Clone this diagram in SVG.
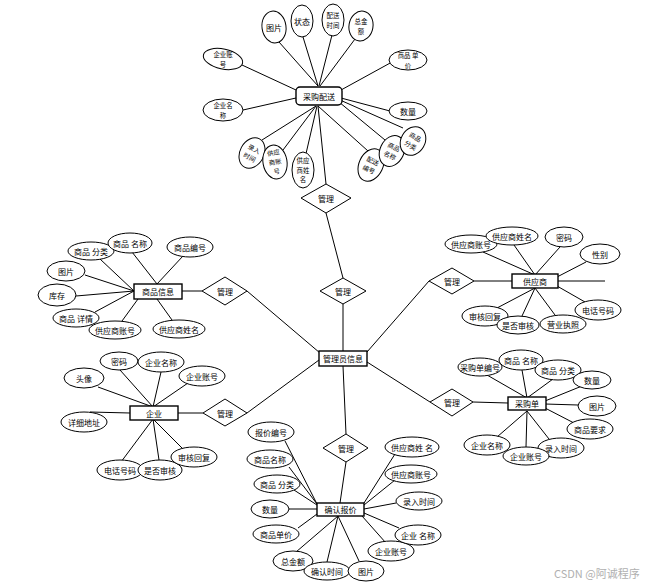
<svg xmlns="http://www.w3.org/2000/svg" width="648" height="585" viewBox="0 0 648 585">
<style>
.l{stroke:#000;stroke-width:1;fill:none}
.e{fill:#fff;stroke:#000;stroke-width:1}
.b{fill:#fff;stroke:#000;stroke-width:1.4}
.d{fill:#fff;stroke:#000;stroke-width:1}
text{font-family:"Noto Sans CJK SC","Noto Sans",sans-serif;font-size:8px;fill:#000;text-anchor:middle;dominant-baseline:central}
text.s{font-size:6.4px}
.wm{font-size:11px;fill:#b0b0b0;text-anchor:start}
</style>
<rect width="648" height="585" fill="#fff"/>
<g id="connectors">
<path class="l" d="M318,86L279,42M318,86L303,37M319,86L332,35M320,86L355,39M296,90L242,65M341,90L392,62M296,98L243,110M341,98L390,111M316,106L262,140M316,106L283,150M317,106L305,158M318,106L368,151M339,102L385,140M340,100L403,128M318,106L326,184"/>
<path class="l" d="M326,213L343,278M343,304L343,351"/>
<path class="l" d="M134,291L100,259M134,291L85,275M134,291L76,296M134,291L95,312M138,299L122,321M157,284L132,252M157,284L183,256M157,299L172,320M182,291L202,291M247,291L320,353"/>
<path class="l" d="M535,275L483,252M535,275L514,245M535,275L560,247M557,277L586,262M557,286L585,302M535,288L497,308M535,288L522,316M535,288L555,315M558,281L605,281M512,281L474,281M429,281L367,352"/>
<path class="l" d="M153,407L98,387M153,407L120,370M153,407L161,372M153,407L188,383M130,413L90,412M153,419L121,462M153,419L159,460M153,419L183,449M178,413L203,413M247,413L319,360"/>
<path class="l" d="M527,398L487,375M527,398L522,370M527,398L553,379M545,401L582,386M545,404L578,405M545,408L574,423M527,411L497,437M527,411L526,447M527,411L549,439M508,403L473,402M430,402L367,362"/>
<path class="l" d="M343,366L346,434M346,462L340,503M317,504L285,441M317,504L289,467M317,505L294,490M317,509L289,509M317,514L298,528M338,516L296,552M338,516L327,562M338,516L359,561M362,516L386,543M364,513L399,528M364,509L396,503M364,505L395,480M364,503L395,454"/>
</g>
<g id="n_caigoupeisong"><rect class="b" x="296" y="87" width="46" height="18" rx="4"/><text x="319" y="96">采购配送</text></g>
<g id="a_tupian1"><ellipse class="e" cx="274" cy="27" rx="12" ry="16" transform="rotate(-8 274 27)"/><text x="274" y="27">图片</text></g>
<g id="a_zhuangtai"><ellipse class="e" cx="302" cy="21" rx="11" ry="16"/><text x="302" y="21">状态</text></g>
<g id="a_peisongshijian"><ellipse class="e" cx="333" cy="20" rx="11" ry="16"/><text class="s" x="333" y="15.5">配送</text><text class="s" x="333" y="25">时间</text></g>
<g id="a_zongjine1"><ellipse class="e" cx="361" cy="26" rx="12" ry="15" transform="rotate(10 361 26)"/><text class="s" x="361" y="21.5">总金</text><text class="s" x="361" y="31">额</text></g>
<g id="a_qiyezhanghao1"><ellipse class="e" cx="223" cy="59" rx="20" ry="10" transform="rotate(12 223 59)"/><text class="s" x="223" y="54.5">企业账</text><text class="s" x="223" y="64">号</text></g>
<g id="a_shangpindanjia1"><ellipse class="e" cx="408" cy="60" rx="19" ry="10"/><text class="s" x="408" y="55.5">商品 单</text><text class="s" x="408" y="65">价</text></g>
<g id="a_qiyemingcheng1"><ellipse class="e" cx="223" cy="110" rx="20" ry="11"/><text class="s" x="223" y="105.5">企业名</text><text class="s" x="223" y="115">称</text></g>
<g id="a_shuliang1"><ellipse class="e" cx="408" cy="111" rx="19" ry="9"/><text x="408" y="111">数量</text></g>
<g id="a_lurushijian1" transform="rotate(28 252 153)"><ellipse class="e" cx="252" cy="153" rx="12" ry="16"/><text class="s" x="252" y="148.5">录入</text><text class="s" x="252" y="158">时间</text></g>
<g id="a_gysZhanghao1" transform="rotate(-10 275 162)"><ellipse class="e" cx="275" cy="162" rx="12" ry="17"/><text class="s" x="275" y="152.5">供应</text><text class="s" x="275" y="162">商账</text><text class="s" x="275" y="171.5">号</text></g>
<g id="a_gysXingming1"><ellipse class="e" cx="303" cy="170" rx="11" ry="18"/><text class="s" x="303" y="160.5">供应</text><text class="s" x="303" y="170">商姓</text><text class="s" x="303" y="179.5">名</text></g>
<g id="a_peisongbianhao" transform="rotate(25 371 165)"><ellipse class="e" cx="371" cy="165" rx="12" ry="17"/><text class="s" x="371" y="160.5">配送</text><text class="s" x="371" y="170">编号</text></g>
<g id="a_spmingcheng1" transform="rotate(25 392 151)"><ellipse class="e" cx="392" cy="151" rx="12" ry="16"/><text class="s" x="392" y="146.5">商品</text><text class="s" x="392" y="156">名称</text></g>
<g id="a_spfenlei1" transform="rotate(30 413 141)"><ellipse class="e" cx="413" cy="141" rx="12" ry="15"/><text class="s" x="413" y="136.5">商品</text><text class="s" x="413" y="146">分类</text></g>
<g id="r_guanli1"><polygon class="d" points="326,184 351,198 326,213 301,198"/><text x="326" y="198">管理</text></g>
<g id="r_guanli2"><polygon class="d" points="343,278 366,291 343,304 320,291"/><text x="343" y="291">管理</text></g>
<g id="n_guanliyuan"><rect class="b" x="319" y="351" width="48" height="15"/><text x="343" y="358.5">管理员信息</text></g>
<g id="n_shangpinxinxi"><rect class="b" x="134" y="284" width="48" height="15"/><text x="158" y="291.5">商品信息</text></g>
<g id="a_sp_fenlei"><ellipse class="e" cx="91" cy="251" rx="23" ry="9"/><text x="91" y="251">商品 分类</text></g>
<g id="a_sp_mingcheng"><ellipse class="e" cx="130" cy="243" rx="22" ry="10"/><text x="130" y="243">商品 名称</text></g>
<g id="a_sp_bianhao"><ellipse class="e" cx="190" cy="247" rx="23" ry="10"/><text x="190" y="247">商品编号</text></g>
<g id="a_sp_tupian"><ellipse class="e" cx="66" cy="271" rx="19" ry="10"/><text x="66" y="271">图片</text></g>
<g id="a_sp_kucun"><ellipse class="e" cx="57" cy="295" rx="19" ry="11"/><text x="57" y="295">库存</text></g>
<g id="a_sp_xiangqing"><ellipse class="e" cx="76" cy="318" rx="23" ry="9"/><text x="76" y="318">商品 详情</text></g>
<g id="a_sp_gyszh"><ellipse class="e" cx="115" cy="330" rx="26" ry="9"/><text x="115" y="330">供应商账号</text></g>
<g id="a_sp_gysxm"><ellipse class="e" cx="179" cy="329" rx="26" ry="9"/><text x="179" y="329">供应商姓名</text></g>
<g id="r_guanli_sp"><polygon class="d" points="225,277 247,291 225,305 202,291"/><text x="225" y="291">管理</text></g>
<g id="n_gongyingshang"><rect class="b" x="512" y="274" width="46" height="14"/><text x="535" y="281">供应商</text></g>
<g id="a_gys_zh"><ellipse class="e" cx="471" cy="244" rx="26" ry="9"/><text x="471" y="244">供应商账号</text></g>
<g id="a_gys_xm"><ellipse class="e" cx="512" cy="236" rx="26" ry="9"/><text x="512" y="236">供应商姓名</text></g>
<g id="a_gys_mima"><ellipse class="e" cx="564" cy="237" rx="19" ry="10"/><text x="564" y="237">密码</text></g>
<g id="a_gys_xingbie"><ellipse class="e" cx="600" cy="254" rx="20" ry="10"/><text x="600" y="254">性别</text></g>
<g id="a_gys_dianhua"><ellipse class="e" cx="598" cy="310" rx="23" ry="10"/><text x="598" y="310">电话号码</text></g>
<g id="a_gys_shhf"><ellipse class="e" cx="485" cy="316" rx="23" ry="10"/><text x="485" y="316">审核回复</text></g>
<g id="a_gys_sfsh"><ellipse class="e" cx="518" cy="325" rx="21" ry="9"/><text x="518" y="325">是否审核</text></g>
<g id="a_gys_yyzz"><ellipse class="e" cx="563" cy="324" rx="23" ry="9"/><text x="563" y="324">营业执照</text></g>
<g id="r_guanli_gys"><polygon class="d" points="452,268 474,281 452,294 429,281"/><text x="452" y="281">管理</text></g>
<g id="n_qiye"><rect class="b" x="130" y="406" width="48" height="14"/><text x="154" y="413">企业</text></g>
<g id="a_qy_touxiang"><ellipse class="e" cx="84" cy="378" rx="20" ry="10"/><text x="84" y="378">头像</text></g>
<g id="a_qy_mima"><ellipse class="e" cx="119" cy="361" rx="19" ry="9"/><text x="119" y="361">密码</text></g>
<g id="a_qy_mc"><ellipse class="e" cx="161" cy="362" rx="23" ry="10"/><text x="161" y="362">企业名称</text></g>
<g id="a_qy_zh"><ellipse class="e" cx="202" cy="376" rx="23" ry="10"/><text x="202" y="376">企业账号</text></g>
<g id="a_qy_dizhi"><ellipse class="e" cx="84" cy="422" rx="23" ry="10"/><text x="84" y="422">详细地址</text></g>
<g id="a_qy_dianhua"><ellipse class="e" cx="120" cy="470" rx="23" ry="10"/><text x="120" y="470">电话号码</text></g>
<g id="a_qy_sfsh"><ellipse class="e" cx="160" cy="470" rx="22" ry="10"/><text x="160" y="470">是否审核</text></g>
<g id="a_qy_shhf"><ellipse class="e" cx="194" cy="457" rx="23" ry="10"/><text x="194" y="457">审核回复</text></g>
<g id="r_guanli_qy"><polygon class="d" points="225,399 247,413 225,426 203,413"/><text x="225" y="413">管理</text></g>
<g id="n_caigoudan"><rect class="b" x="508" y="397" width="38" height="13"/><text x="527" y="403.5">采购单</text></g>
<g id="a_cgd_bh"><ellipse class="e" cx="480" cy="367" rx="22" ry="9"/><text x="480" y="367">采购单编号</text></g>
<g id="a_cgd_mc"><ellipse class="e" cx="521" cy="360" rx="22" ry="10"/><text x="521" y="360">商品 名称</text></g>
<g id="a_cgd_fl"><ellipse class="e" cx="558" cy="370" rx="23" ry="10"/><text x="558" y="370">商品 分类</text></g>
<g id="a_cgd_sl"><ellipse class="e" cx="592" cy="380" rx="19" ry="9"/><text x="592" y="380">数量</text></g>
<g id="a_cgd_tp"><ellipse class="e" cx="597" cy="406" rx="19" ry="10"/><text x="597" y="406">图片</text></g>
<g id="a_cgd_yq"><ellipse class="e" cx="590" cy="429" rx="23" ry="10"/><text x="590" y="429">商品要求</text></g>
<g id="a_cgd_lr"><ellipse class="e" cx="561" cy="448" rx="23" ry="10"/><text x="561" y="448">录入时间</text></g>
<g id="a_cgd_qymc"><ellipse class="e" cx="487" cy="445" rx="23" ry="10"/><text x="487" y="445">企业名称</text></g>
<g id="a_cgd_qyzh"><ellipse class="e" cx="526" cy="456" rx="23" ry="9"/><text x="526" y="456">企业账号</text></g>
<g id="r_guanli_cgd"><polygon class="d" points="452,389 473,402 452,416 430,402"/><text x="452" y="402">管理</text></g>
<g id="n_querenbaojia"><rect class="b" x="317" y="503" width="47" height="13"/><text x="340.5" y="509.5">确认报价</text></g>
<g id="a_qr_bjbh"><ellipse class="e" cx="271" cy="432" rx="23" ry="10"/><text x="271" y="432">报价编号</text></g>
<g id="a_qr_spmc"><ellipse class="e" cx="270" cy="459" rx="23" ry="9"/><text x="270" y="459">商品名称</text></g>
<g id="a_qr_spfl"><ellipse class="e" cx="277" cy="484" rx="23" ry="9"/><text x="277" y="484">商品 分类</text></g>
<g id="a_qr_sl"><ellipse class="e" cx="270" cy="509" rx="19" ry="9"/><text x="270" y="509">数量</text></g>
<g id="a_qr_spdj"><ellipse class="e" cx="276" cy="534" rx="23" ry="9"/><text x="276" y="534">商品单价</text></g>
<g id="a_qr_zje"><ellipse class="e" cx="293" cy="561" rx="20" ry="10"/><text x="293" y="561">总金额</text></g>
<g id="a_qr_qrsj"><ellipse class="e" cx="327" cy="571" rx="23" ry="9"/><text x="327" y="571">确认时间</text></g>
<g id="a_qr_tp"><ellipse class="e" cx="366" cy="571" rx="18" ry="10"/><text x="366" y="571">图片</text></g>
<g id="a_qr_qyzh"><ellipse class="e" cx="391" cy="551" rx="23" ry="10"/><text x="391" y="551">企业账号</text></g>
<g id="a_qr_qymc"><ellipse class="e" cx="418" cy="535" rx="23" ry="10"/><text x="418" y="535">企业 名称</text></g>
<g id="a_qr_lrsj"><ellipse class="e" cx="419" cy="501" rx="23" ry="9"/><text x="419" y="501">录入时间</text></g>
<g id="a_qr_gyszh"><ellipse class="e" cx="411" cy="474" rx="26" ry="9"/><text x="411" y="474">供应商账号</text></g>
<g id="a_qr_gysxm"><ellipse class="e" cx="412" cy="447" rx="27" ry="10"/><text x="412" y="447">供应商姓 名</text></g>
<g id="r_guanli_qr"><polygon class="d" points="346,434 368,448 346,462 323,448"/><text x="346" y="448">管理</text></g>
<text class="wm" x="554" y="573">CSDN @阿诚程序</text>
</svg>
